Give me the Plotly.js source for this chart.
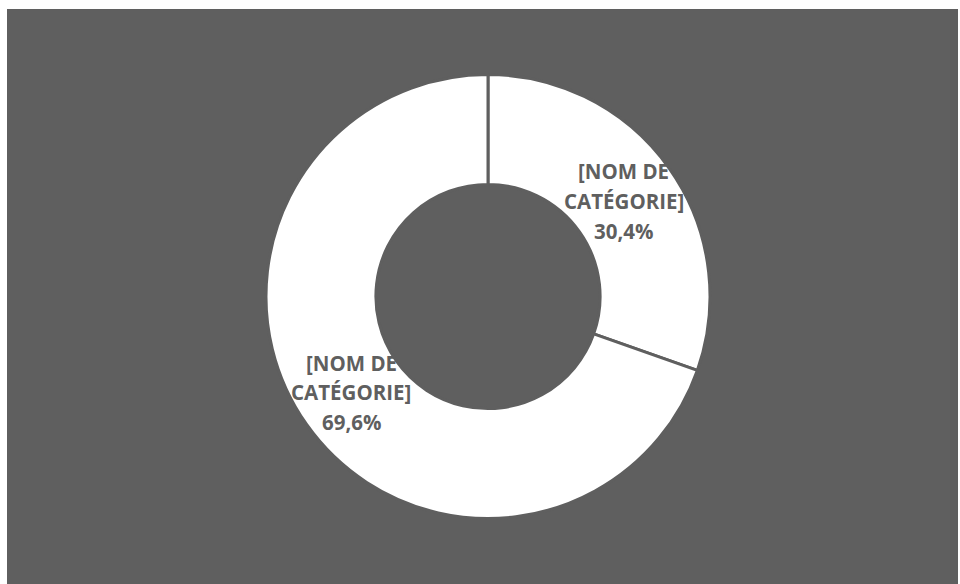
<!DOCTYPE html>
<html>
<head>
<meta charset="utf-8">
<script src="https://cdn.plot.ly/plotly-3.0.1.min.js"></script>
<style>
html, body { margin: 0; padding: 0; background: #ffffff; width: 960px; height: 584px; overflow: hidden; }
#chart { position: absolute; left: 7px; top: 9px; width: 951px; height: 575px; }
</style>
</head>
<body>
<div id="chart"></div>
<script>
const categories = ["[NOM DE CATÉGORIE]", "[NOM DE CATÉGORIE]"];
const categoryLines = [["[NOM DE", "CATÉGORIE]"], ["[NOM DE", "CATÉGORIE]"]];
const values = [30.4, 69.6];
const percentLabels = ["30,4%", "69,6%"];

const bg = "#5f5f5f";
const W = 951, H = 575;
const cx = 481, cy = 287.5, R = 222;

const trace = {
  type: "pie",
  values: values,
  labels: categories.map((c, i) => c + " " + (i + 1)),
  sort: false,
  direction: "clockwise",
  rotation: 0,
  hole: 0.505,
  textinfo: "none",
  hoverinfo: "none",
  showlegend: false,
  marker: { colors: ["#ffffff", "#ffffff"], line: { color: bg, width: 3 } },
  domain: { x: [(cx - R) / W, (cx + R) / W], y: [(H - cy - R) / H, (H - cy + R) / H] }
};

// middle-line centres of each label block (pixel coords inside the chart div)
const labelPos = [[616.5, 192], [344, 383]];
const lineGap = 29.5;
const annotations = [];
categoryLines.forEach((lines, i) => {
  const all = lines.concat([percentLabels[i]]);
  all.forEach((t, k) => {
    annotations.push({
      text: "<b>" + t + "</b>",
      x: labelPos[i][0] / W,
      y: 1 - (labelPos[i][1] + (k - 1) * lineGap) / H,
      xref: "paper", yref: "paper",
      xanchor: "center", yanchor: "middle",
      showarrow: false,
      font: { family: "'Open Sans', sans-serif", size: 20.5, color: bg }
    });
  });
});

const layout = {
  width: W, height: H,
  paper_bgcolor: bg,
  plot_bgcolor: bg,
  margin: { l: 0, r: 0, t: 0, b: 0 },
  annotations: annotations
};

Plotly.newPlot("chart", [trace], layout, { displayModeBar: false, staticPlot: true });
</script>
</body>
</html>
